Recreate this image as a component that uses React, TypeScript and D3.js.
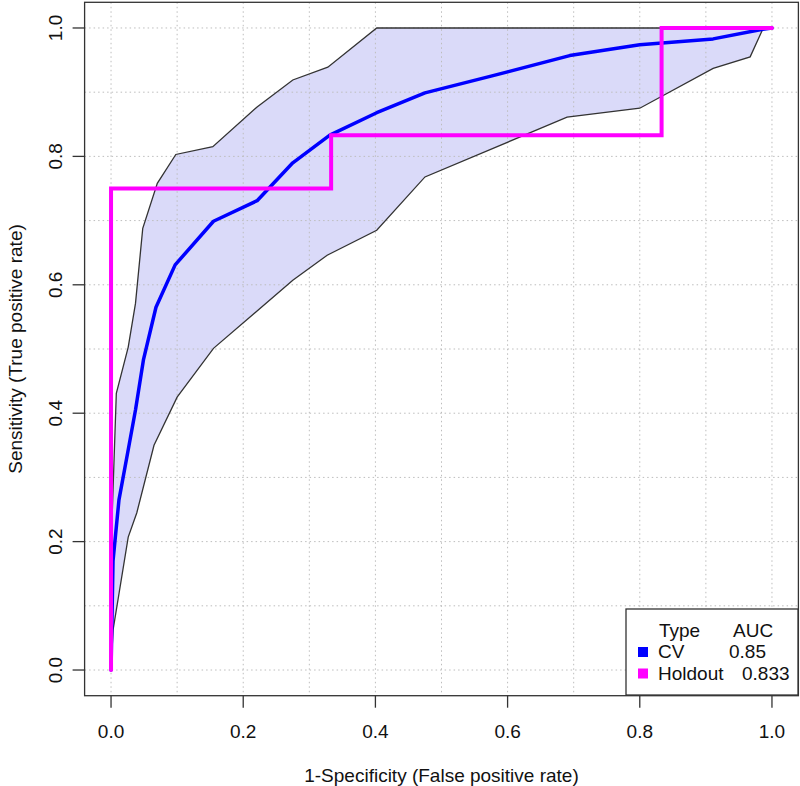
import React from "react";
import * as d3 from "d3";

// CV mean ROC curve
const cvFpr = [0, 0.003, 0.012, 0.026, 0.037, 0.049, 0.068, 0.097, 0.155, 0.221, 0.275, 0.331, 0.402, 0.475, 0.575, 0.694, 0.8, 0.911, 0.986, 1];
const cvTpr = [0, 0.17, 0.265, 0.343, 0.405, 0.483, 0.565, 0.631, 0.699, 0.731, 0.79, 0.833, 0.868, 0.899, 0.925, 0.957, 0.974, 0.983, 0.998, 1];

// upper band of CV curve
const upFpr = [0, 0.002, 0.008, 0.026, 0.037, 0.048, 0.07, 0.098, 0.154, 0.221, 0.275, 0.328, 0.402, 0.986, 1];
const upTpr = [0, 0.25, 0.431, 0.503, 0.571, 0.688, 0.758, 0.803, 0.815, 0.877, 0.919, 0.939, 1, 1, 1];

// lower band of CV curve
const loFpr = [0, 0.003, 0.026, 0.039, 0.065, 0.1, 0.155, 0.275, 0.327, 0.402, 0.475, 0.69, 0.8, 0.911, 0.967, 0.986, 1];
const loTpr = [0, 0.062, 0.207, 0.245, 0.35, 0.425, 0.501, 0.607, 0.646, 0.685, 0.768, 0.861, 0.875, 0.937, 0.955, 0.998, 1];

// holdout ROC curve
const hoFpr = [0, 0, 0.333, 0.333, 0.833, 0.833, 1];
const hoTpr = [0, 0.75, 0.75, 0.833, 0.833, 1, 1];

const ticks = [0, 0.2, 0.4, 0.6, 0.8, 1.0];
const gridVals = [0, 0.1, 0.2, 0.3, 0.4, 0.5, 0.6, 0.7, 0.8, 0.9, 1.0];

const legendTypes = ["CV", "Holdout"];
const legendAUC = ["0.85", "0.833"];
const legendColors = ["#0000ff", "#ff00ff"];

const FONT = "'Liberation Sans', Arial, sans-serif";

export default function App() {
  const W = 800, H = 786;
  const x = d3.scaleLinear().domain([-0.04, 1.04]).range([84.6, 798.4]);
  const y = d3.scaleLinear().domain([-0.04, 1.04]).range([695.7, 2.3]);
  const line = d3.line<[number, number]>().x(d => x(d[0])).y(d => y(d[1]));

  const cv = cvFpr.map((v, i) => [v, cvTpr[i]] as [number, number]);
  const up = upFpr.map((v, i) => [v, upTpr[i]] as [number, number]);
  const lo = loFpr.map((v, i) => [v, loTpr[i]] as [number, number]);
  const ho = hoFpr.map((v, i) => [v, hoTpr[i]] as [number, number]);
  const band = [...up, ...lo.slice().reverse()];

  const [x0, x1] = x.range();
  const [y0, y1] = y.range();

  const lx = 626, ly = 609, lw = 172, lh = 86;

  return (
    <svg width={W} height={H} style={{ position: "absolute", left: 0, top: 0, background: "#fff" }} fontFamily={FONT}>
      <rect x={0} y={0} width={W} height={H} fill="#fff" />
      <path d={line(band) + "Z"} fill="#dadaf9" stroke="none" />
      {gridVals.map(v => (
        <line key={"gx" + v} x1={x(v)} x2={x(v)} y1={y1} y2={y0} stroke="#bdbdbd" strokeWidth={1} strokeDasharray="1.5,3" />
      ))}
      {gridVals.map(v => (
        <line key={"gy" + v} x1={x0} x2={x1} y1={y(v)} y2={y(v)} stroke="#bdbdbd" strokeWidth={1} strokeDasharray="1.5,3" />
      ))}
      <path d={line(up) || ""} fill="none" stroke="#333" strokeWidth={1.3} />
      <path d={line(lo) || ""} fill="none" stroke="#333" strokeWidth={1.3} />
      <path d={line(cv) || ""} fill="none" stroke="#0000ff" strokeWidth={3.5} strokeLinejoin="round" strokeLinecap="round" />
      <path d={line(ho) || ""} fill="none" stroke="#ff00ff" strokeWidth={4} strokeLinejoin="miter" strokeLinecap="round" />
      <rect x={x0} y={y1} width={x1 - x0} height={y0 - y1} fill="none" stroke="#333" strokeWidth={1.3} />

      {ticks.map(v => (
        <g key={"xt" + v}>
          <line x1={x(v)} x2={x(v)} y1={y0} y2={y0 + 12} stroke="#333" strokeWidth={1.3} />
          <text x={x(v)} y={737.5} fontSize={19} textAnchor="middle" fill="#111">{v.toFixed(1)}</text>
        </g>
      ))}
      {ticks.map(v => (
        <g key={"yt" + v}>
          <line x1={x0 - 12} x2={x0} y1={y(v)} y2={y(v)} stroke="#333" strokeWidth={1.3} />
          <text transform={`translate(62,${y(v)}) rotate(-90)`} fontSize={19} textAnchor="middle" fill="#111">{v.toFixed(1)}</text>
        </g>
      ))}
      <text x={(x0 + x1) / 2} y={782} fontSize={19} textAnchor="middle" fill="#111">1-Specificity (False positive rate)</text>
      <text transform={`translate(22,${(y0 + y1) / 2}) rotate(-90)`} fontSize={19} textAnchor="middle" fill="#111">Sensitivity (True positive rate)</text>

      <rect x={lx} y={ly} width={lw} height={lh} fill="#fff" stroke="#333" strokeWidth={1.3} />
      <text x={659} y={637} fontSize={19} fill="#111">Type</text>
      <text x={733} y={637} fontSize={19} fill="#111">AUC</text>
      {legendTypes.map((t, i) => (
        <g key={t}>
          <rect x={638} y={647 + i * 21.5} width={10} height={10} fill={legendColors[i]} />
          <text x={658} y={658 + i * 21.5} fontSize={19} fill="#111">{t}</text>
          <text x={i === 0 ? 729 : 742} y={658 + i * 21.5} fontSize={19} fill="#111">{legendAUC[i]}</text>
        </g>
      ))}
    </svg>
  );
}
